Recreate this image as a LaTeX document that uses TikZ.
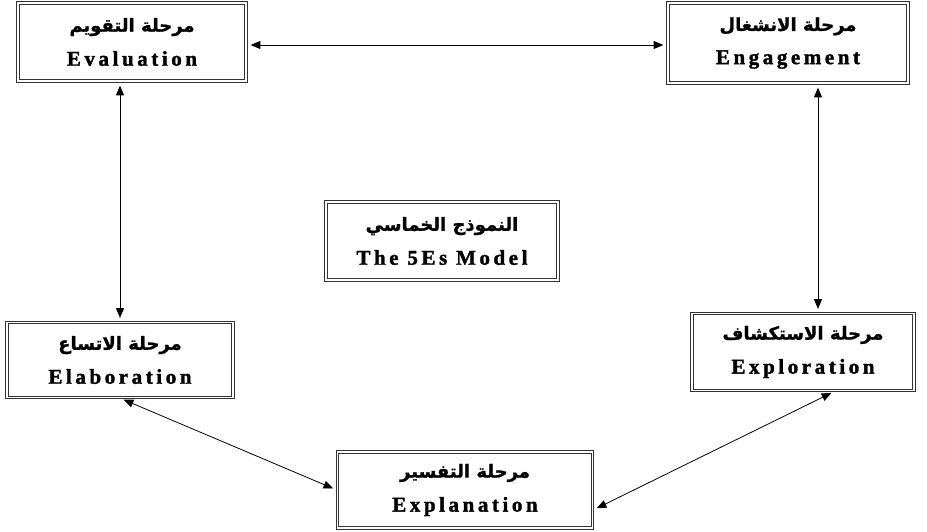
\documentclass[tikz,border=0pt]{standalone}
\usepackage{fontspec}
\setmainfont{Liberation Serif}
\newfontfamily\arabicfont[Script=Arabic, BoldFont={DejaVu Sans Bold}, BoldFeatures={FakeBold=1.2}]{DejaVu Sans}
\newfontfamily\latinfont[LetterSpace=17, BoldFont={Liberation Serif Bold}, BoldFeatures={FakeBold=1.6}]{Liberation Serif}
\TeXXeTstate=1
\usetikzlibrary{calc,arrows.meta}
\tikzset{
	% ------- every something
	every picture/.style={
		x=1pt, y=-1pt,
	},
	every path/.style={
		line width=0.8pt,
	},
	% ------- custom
	phase/.style={
		draw=black!80,
		line width=1.3pt,
		double=white,
		double distance=1.3pt,
		align=center,
		inner sep=0pt,
	},
	link/.style={
		{Triangle[length=3.4mm,width=2.8mm]}-{Triangle[length=3.4mm,width=2.8mm]},
		shorten <=4pt,
		shorten >=4pt,
	},
}
\newcommand{\ar}[1]{{\arabicfont\bfseries\fontsize{18}{21}\selectfont\beginR #1\endR}}
\newcommand{\en}[1]{{\latinfont\bfseries\fontsize{21}{25}\selectfont #1}}
\newcommand{\phasetext}[2]{\ar{#1}\\[14pt]\en{#2}}

\begin{document}
\begin{tikzpicture}

% frame %{{{2

	\useasboundingbox (0,0) rectangle (927,531);

% boxes %{{{2

	\node[phase, minimum width=228, minimum height=78] (eval) at (132,42)
		{\phasetext{مرحلة التقويم}{Evaluation}};
	\node[phase, minimum width=240, minimum height=80] (engage) at (788,43)
		{\phasetext{مرحلة الانشغال}{Engagement}};
	\node[phase, minimum width=232, minimum height=78] (model) at (442,241)
		{\phasetext{النموذج الخماسي}{The 5Es Model}};
	\node[phase, minimum width=226, minimum height=75] (elab) at (120,360)
		{\phasetext{مرحلة الاتساع}{Elaboration}};
	\node[phase, minimum width=222, minimum height=77] (explore) at (803,352)
		{\phasetext{مرحلة الاستكشاف}{Exploration}};
	\node[phase, minimum width=255, minimum height=76] (explain) at (465,490)
		{\phasetext{مرحلة التفسير}{Explanation}};

% connectors %{{{2

	\draw[link] ([yshift=-3pt]eval.east) -- ([yshift=-2pt]engage.west);
	\draw[link] (eval.south -| elab.north) -- (elab.north);
	\draw[link] ([xshift=30pt]engage.south) -- ([xshift=30pt]engage.south |- explore.north);
	\draw[link] (elab.south) -- (explain.west);
	\draw[link] ([xshift=32pt]explore.south) -- ([yshift=-20pt]explain.east);

% closing %{{{2

\end{tikzpicture}
\end{document}
